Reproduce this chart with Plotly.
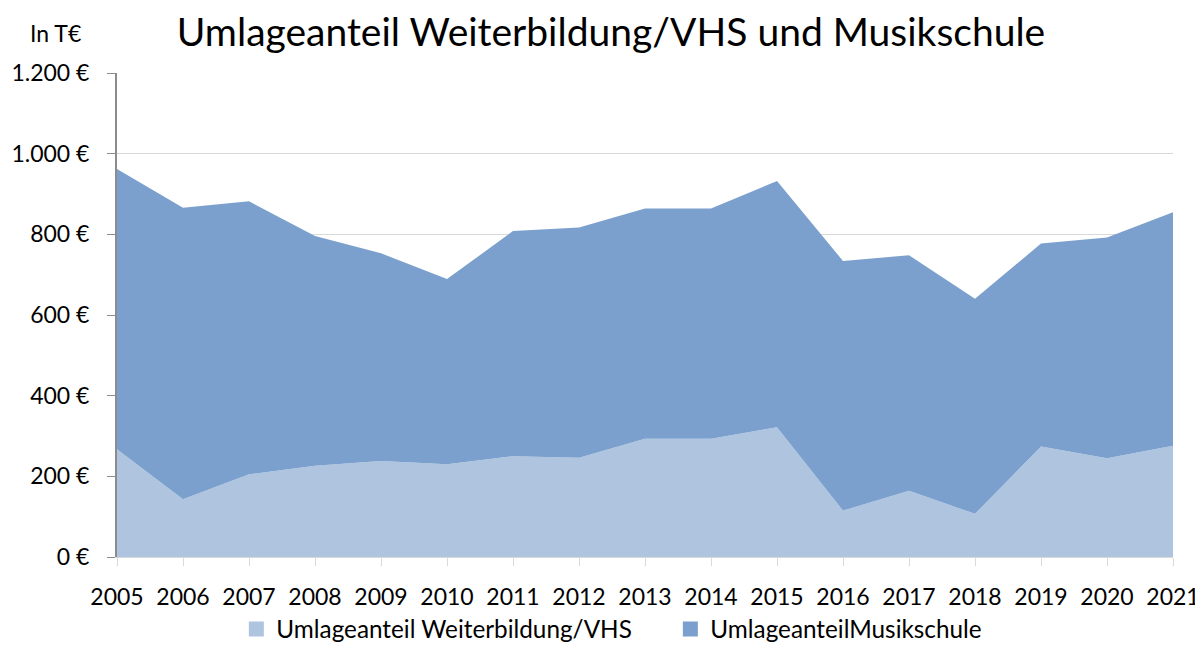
import plotly.graph_objects as go

years = [str(y) for y in range(2005, 2022)]
vhs = [267, 143, 205, 226, 238, 230, 250, 246, 293, 293, 322, 115, 164, 107, 274, 245, 276]
musik = [695, 723, 677, 570, 515, 459, 558, 571, 571, 571, 610, 619, 584, 533, 503, 547, 579]
ytick_vals = [0, 200, 400, 600, 800, 1000, 1200]
ytick_text = ["0 €", "200 €", "400 €", "600 €", "800 €", "1.000 €", "1.200 €"]
names = ["Umlageanteil Weiterbildung/VHS", "UmlageanteilMusikschule"]
colors = ["#AEC4DF", "#7BA0CD"]

FONT = "Lato"

fig = go.Figure()
for vals, nm, col in zip([vhs, musik], names, colors):
    fig.add_trace(go.Scatter(x=years, y=vals, name=nm, stackgroup="one",
                             mode="none", fillcolor=col, line=dict(width=0),
                             showlegend=False))
for nm, col in zip(names, colors):
    fig.add_trace(go.Scatter(x=[None], y=[None], name=nm, mode="markers",
                             marker=dict(symbol="square", size=15, color=col),
                             showlegend=True))

fig.update_layout(
    width=1195, height=637,
    margin=dict(l=109, r=30, t=65, b=88, autoexpand=False),
    plot_bgcolor="white", paper_bgcolor="white",
    font=dict(family=FONT, size=23, color="#000000"),
    title=dict(text="Umlageanteil Weiterbildung/VHS und Musikschule",
               x=0.5046, xanchor="center", y=0.961, yanchor="middle",
               font=dict(family=FONT, size=39, color="#000000")),
    showlegend=True,
    legend=dict(orientation="h", x=0.524, xanchor="center", y=-0.149, yanchor="middle",
                font=dict(family=FONT, size=24.3), traceorder="normal",
                entrywidth=389, entrywidthmode="pixels", itemwidth=30),
    xaxis=dict(type="category", range=[0, len(years) - 1], showgrid=False,
               showline=True, linecolor="#D9D9D9", linewidth=1,
               ticks="outside", ticklen=8, tickcolor="#D9D9D9",
               tickfont=dict(family=FONT, size=23), ticklabelstandoff=11),
    yaxis=dict(range=[0, 1200], tickvals=ytick_vals, ticktext=ytick_text,
               showgrid=True, gridcolor="#D9D9D9", gridwidth=1,
               showline=True, linecolor="#8C8C8C", linewidth=2,
               ticks="outside", ticklen=8, tickcolor="#8C8C8C",
               tickfont=dict(family=FONT, size=23), zeroline=False,
               ticklabelstandoff=13),
)
fig.add_annotation(text="In T€", xref="paper", yref="paper",
                   x=-0.0587, y=1.0826, xanchor="center", yanchor="middle",
                   showarrow=False, font=dict(family=FONT, size=23))

fig.write_html("out.html")
